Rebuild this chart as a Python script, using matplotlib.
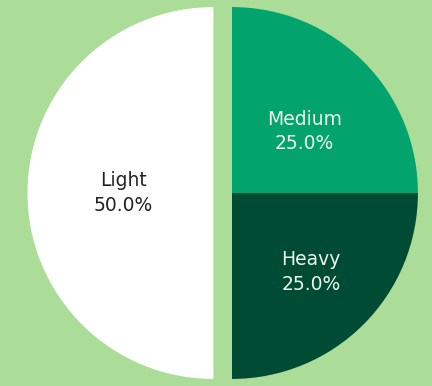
import matplotlib
matplotlib.use("Agg")
import matplotlib.pyplot as plt

# data
categories = ["Medium", "Heavy", "Light"]
values = [25.0, 25.0, 50.0]
colors = ["#02a36d", "#004b33", "#ffffff"]
text_colors = ["#eef5ec", "#eef5ec", "#222222"]
explode = [0, 0, 0.1]
# label anchor positions (layout, in pie units)
label_pos = [(0.39, 0.33), (0.425, -0.425), (-0.586, 0.0)]

BG = "#acdd98"

fig = plt.figure(figsize=(4.32, 3.86), dpi=100, facecolor=BG)
ax = fig.add_axes([0, 0, 1, 1])
ax.set_facecolor(BG)

total = sum(values)
labels = [f"{c}\n{v / total * 100:.1f}%" for c, v in zip(categories, values)]

wedges, texts = ax.pie(
    values, labels=labels, colors=colors, explode=explode,
    startangle=90, counterclock=False, labeldistance=0.55,
    wedgeprops=dict(linewidth=0),
)
for t, tc, pos in zip(texts, text_colors, label_pos):
    t.set_position(pos)
    t.set_ha("center")
    t.set_va("center")
    t.set_color(tc)
    t.set_fontsize(13.5)
    t.set_linespacing(1.35)

ax.set_aspect("equal")
ax.set_xlim(-1.247, 1.075)
ax.set_ylim(-1.038, 1.038)
ax.axis("off")

fig.savefig("out.png", dpi=100, facecolor=BG)
